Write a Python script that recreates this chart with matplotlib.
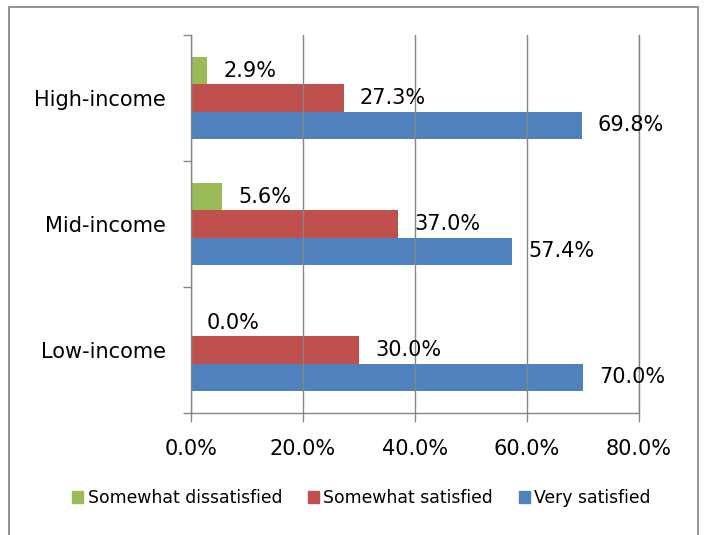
import matplotlib
matplotlib.use("Agg")
import matplotlib.pyplot as plt
from matplotlib.patches import Patch, Rectangle
import numpy as np

# survey results, percent of respondents per income group
groups = ['Low-income', 'Mid-income', 'High-income']
very_satisfied = [70.0, 57.4, 69.8]
somewhat_satisfied = [30.0, 37.0, 27.3]
somewhat_dissatisfied = [0.0, 5.6, 2.9]
x_ticks = [0, 20, 40, 60, 80]

blue = '#4F81BD'
red = '#C0504D'
green = '#9BBB59'
grey = '#868686'

fig = plt.figure(figsize=(7.05, 5.35), dpi=100, facecolor='w')
ax = fig.add_axes([191/705, 1 - 413/535, 448/705, 378/535])

y = np.arange(len(groups))
h = 0.217
series = [(very_satisfied, blue, -h), (somewhat_satisfied, red, 0), (somewhat_dissatisfied, green, h)]
for vals, col, off in series:
    ax.barh(y + off, vals, height=h, color=col, edgecolor='none', zorder=1)
    for yi, v in zip(y, vals):
        ax.annotate('%.1f%%' % v, (v, yi + off), xytext=(11.5, 0), textcoords='offset points',
                    ha='left', va='center', fontsize=15, zorder=4)

ax.set_xlim(0, 80)
ax.set_ylim(-0.5, len(groups) - 0.5)
ax.set_xticks(x_ticks)
ax.set_xticklabels(['%.1f%%' % t for t in x_ticks], fontsize=15)
ax.set_yticks(np.arange(-0.5, len(groups)), labels=[])
ax.set_yticks(y, minor=True)
ax.set_yticklabels(groups, minor=True, fontsize=15)

ax.tick_params(axis='x', direction='out', length=6.5, width=1, color=grey, pad=12)
ax.tick_params(axis='y', which='major', direction='out', length=6, width=1, color=grey)
ax.tick_params(axis='y', which='minor', length=0, pad=18)

ax.grid(axis='x', color=grey, lw=1, zorder=2)
ax.set_axisbelow(False)
for s in ('left', 'bottom', 'right'):
    ax.spines[s].set_color(grey)
    ax.spines[s].set_linewidth(1)
ax.spines['top'].set_visible(False)

handles = [Patch(color=green, label='Somewhat dissatisfied'),
           Patch(color=red, label='Somewhat satisfied'),
           Patch(color=blue, label='Very satisfied')]
fig.legend(handles=handles, loc='center', bbox_to_anchor=(361.5/705, 1 - 498/535), ncol=3,
           frameon=False, fontsize=12.4, handlelength=0.65, handleheight=0.65,
           handletextpad=0.25, columnspacing=1.5)

# chart border (bottom edge falls outside the picture)
fig.patches.append(Rectangle((9/705, -0.1), 689/705, 1.1 - 7/535, transform=fig.transFigure,
                             fill=False, edgecolor='#8a8a8a', lw=1.3))

fig.savefig('out.png', dpi=100)
